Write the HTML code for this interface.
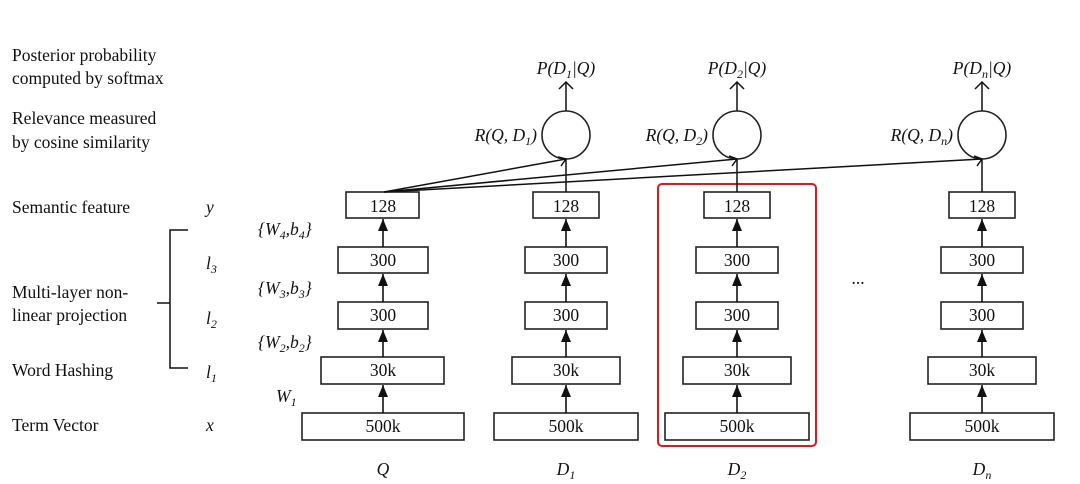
<!DOCTYPE html>
<html><head><meta charset="utf-8"><style>
html,body{margin:0;padding:0;background:#fff;}
svg{display:block;}
text{font-family:"Liberation Serif",serif;fill:#111;}
.t{font-size:17.5px;}
.i{font-size:17.5px;font-style:italic;}
.b{font-size:17.5px;text-anchor:middle;}
</style></head><body>
<svg width="1080" height="484" viewBox="0 0 1080 484" xmlns="http://www.w3.org/2000/svg">
<defs>
<marker id="fa" markerWidth="12" markerHeight="10" refX="12" refY="5" orient="auto" markerUnits="userSpaceOnUse" viewBox="0 0 12 10"><path d="M0,0 L12,5 L0,10 Z" fill="#111"/></marker>
</defs>
<text x="12" y="61" class="t">Posterior probability</text>
<text x="12" y="84" class="t">computed by softmax</text>
<text x="12" y="124" class="t">Relevance measured</text>
<text x="12" y="148" class="t">by cosine similarity</text>
<text x="12" y="213" class="t">Semantic feature</text>
<text x="12" y="298" class="t">Multi-layer non-</text>
<text x="12" y="321" class="t">linear projection</text>
<text x="12" y="376" class="t">Word Hashing</text>
<text x="12" y="431" class="t">Term Vector</text>
<path d="M188,230 H170 V368 H188 M157,303 H170" fill="none" stroke="#111" stroke-width="1.5"/>
<text x="206" y="213" class="i">y</text>
<text x="206" y="269" class="i">l<tspan font-size="12" dy="4">3</tspan></text>
<text x="206" y="324" class="i">l<tspan font-size="12" dy="4">2</tspan></text>
<text x="206" y="378" class="i">l<tspan font-size="12" dy="4">1</tspan></text>
<text x="206" y="431" class="i">x</text>
<text x="258" y="235" class="i">{W<tspan font-size="12" dy="4">4</tspan><tspan dy="-4">,b</tspan><tspan font-size="12" dy="4">4</tspan><tspan dy="-4">}</tspan></text>
<text x="258" y="294" class="i">{W<tspan font-size="12" dy="4">3</tspan><tspan dy="-4">,b</tspan><tspan font-size="12" dy="4">3</tspan><tspan dy="-4">}</tspan></text>
<text x="258" y="348" class="i">{W<tspan font-size="12" dy="4">2</tspan><tspan dy="-4">,b</tspan><tspan font-size="12" dy="4">2</tspan><tspan dy="-4">}</tspan></text>
<text x="276" y="402" class="i">W<tspan font-size="12" dy="4">1</tspan></text>

<g fill="#fff" stroke="#222" stroke-width="1.6">
<rect x="346" y="192" width="73" height="26"/><rect x="338" y="247" width="90" height="26"/><rect x="338" y="302" width="90" height="27"/><rect x="321" y="357" width="123" height="27"/><rect x="302" y="413" width="162" height="27"/>
<rect x="533" y="192" width="66" height="26"/><rect x="525" y="247" width="82" height="26"/><rect x="525" y="302" width="82" height="27"/><rect x="512" y="357" width="108" height="27"/><rect x="494" y="413" width="144" height="27"/>
<rect x="704" y="192" width="66" height="26"/><rect x="696" y="247" width="82" height="26"/><rect x="696" y="302" width="82" height="27"/><rect x="683" y="357" width="108" height="27"/><rect x="665" y="413" width="144" height="27"/>
<rect x="949" y="192" width="66" height="26"/><rect x="941" y="247" width="82" height="26"/><rect x="941" y="302" width="82" height="27"/><rect x="928" y="357" width="108" height="27"/><rect x="910" y="413" width="144" height="27"/>
<circle cx="566" cy="135" r="24"/><circle cx="737" cy="135" r="24"/><circle cx="982" cy="135" r="24"/>
</g>
<rect x="658" y="184" width="158" height="262" rx="4" fill="none" stroke="#e8141c" stroke-width="2"/>

<g stroke="#111" stroke-width="1.6" marker-end="url(#fa)">
<line x1="383" y1="413" x2="383" y2="385"/><line x1="383" y1="357" x2="383" y2="330"/><line x1="383" y1="302" x2="383" y2="274"/><line x1="383" y1="247" x2="383" y2="219"/>
<line x1="566" y1="413" x2="566" y2="385"/><line x1="566" y1="357" x2="566" y2="330"/><line x1="566" y1="302" x2="566" y2="274"/><line x1="566" y1="247" x2="566" y2="219"/>
<line x1="737" y1="413" x2="737" y2="385"/><line x1="737" y1="357" x2="737" y2="330"/><line x1="737" y1="302" x2="737" y2="274"/><line x1="737" y1="247" x2="737" y2="219"/>
<line x1="982" y1="413" x2="982" y2="385"/><line x1="982" y1="357" x2="982" y2="330"/><line x1="982" y1="302" x2="982" y2="274"/><line x1="982" y1="247" x2="982" y2="219"/>
</g>
<g stroke="#111" stroke-width="1.5" fill="none">
<line x1="566" y1="192" x2="566" y2="159"/><line x1="737" y1="192" x2="737" y2="159"/><line x1="982" y1="192" x2="982" y2="159"/>
<line x1="384" y1="192" x2="566" y2="159"/><line x1="384" y1="192" x2="737" y2="159"/><line x1="384" y1="192" x2="982" y2="159"/>
<path d="M558,157 L566,159 L561,166 M729,156 L737,159 L732,166 M974,156 L982,159 L977,166"/>
<line x1="566" y1="111" x2="566" y2="82"/><line x1="737" y1="111" x2="737" y2="82"/><line x1="982" y1="111" x2="982" y2="82"/>
<path d="M559,89 L566,82 L573,89 M730,89 L737,82 L744,89 M975,89 L982,82 L989,89"/>
</g>
<text x="383" y="212" class="b">128</text><text x="383" y="266" class="b">300</text><text x="383" y="321" class="b">300</text><text x="383" y="376" class="b">30k</text><text x="383" y="432" class="b">500k</text>
<text x="566" y="212" class="b">128</text><text x="566" y="266" class="b">300</text><text x="566" y="321" class="b">300</text><text x="566" y="376" class="b">30k</text><text x="566" y="432" class="b">500k</text>
<text x="737" y="212" class="b">128</text><text x="737" y="266" class="b">300</text><text x="737" y="321" class="b">300</text><text x="737" y="376" class="b">30k</text><text x="737" y="432" class="b">500k</text>
<text x="982" y="212" class="b">128</text><text x="982" y="266" class="b">300</text><text x="982" y="321" class="b">300</text><text x="982" y="376" class="b">30k</text><text x="982" y="432" class="b">500k</text>
<text x="858" y="284" class="b">...</text>
<text x="383" y="475" text-anchor="middle" class="i">Q</text>
<text x="566" y="475" text-anchor="middle" class="i">D<tspan font-size="12" dy="4">1</tspan></text>
<text x="737" y="475" text-anchor="middle" class="i">D<tspan font-size="12" dy="4">2</tspan></text>
<text x="982" y="475" text-anchor="middle" class="i">D<tspan font-size="12" dy="4">n</tspan></text>
<text x="566" y="74" text-anchor="middle" class="i">P(D<tspan font-size="12" dy="4">1</tspan><tspan dy="-4">|Q)</tspan></text>
<text x="737" y="74" text-anchor="middle" class="i">P(D<tspan font-size="12" dy="4">2</tspan><tspan dy="-4">|Q)</tspan></text>
<text x="982" y="74" text-anchor="middle" class="i">P(D<tspan font-size="12" dy="4">n</tspan><tspan dy="-4">|Q)</tspan></text>
<text x="537" y="141" text-anchor="end" class="i">R(Q, D<tspan font-size="12" dy="4">1</tspan><tspan dy="-4">)</tspan></text>
<text x="708" y="141" text-anchor="end" class="i">R(Q, D<tspan font-size="12" dy="4">2</tspan><tspan dy="-4">)</tspan></text>
<text x="953" y="141" text-anchor="end" class="i">R(Q, D<tspan font-size="12" dy="4">n</tspan><tspan dy="-4">)</tspan></text>
</svg>
</body></html>
